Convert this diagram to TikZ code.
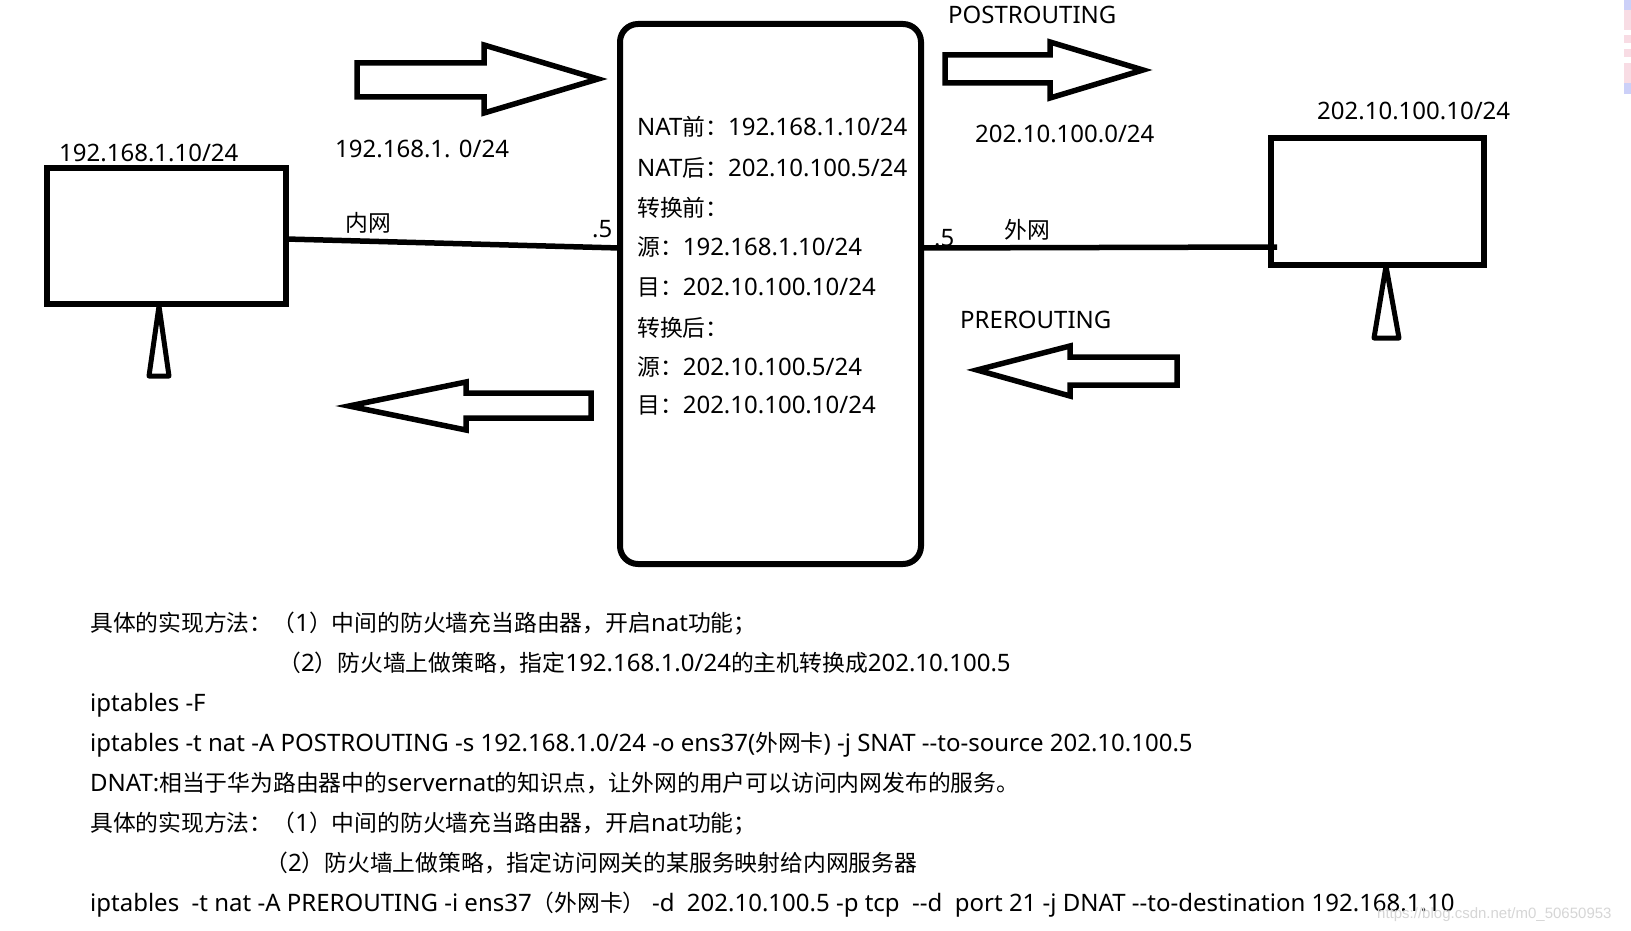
\documentclass[tikz,border=0pt]{standalone}
\usepackage{fontspec}
\setmainfont{Noto Sans}
\newfontfamily\cjkf{Noto Sans CJK SC}[Scale=0.95]
\newfontfamily\wmf{Liberation Sans}
\newcommand\C[1]{{\cjkf #1}}
\definecolor{pinkbar}{HTML}{F8DCE4}
\definecolor{bluebar}{HTML}{CCD0F8}
\definecolor{wmark}{HTML}{D6D6D6}
\begin{document}
\begin{tikzpicture}[x=1pt,y=-1pt,
  ln/.style={line width=5.5pt},
  ant/.style={line width=5pt, line join=round},
  box/.style={draw, line width=5.5pt, inner sep=0pt, outer sep=0pt},
  txt/.style={anchor=base west, inner sep=0pt, font=\fontsize{24}{29}\selectfont}]
\useasboundingbox (0,0) rectangle (1631,931);
\fill[white] (0,0) rectangle (1631,931);
% stripes at the right edge
\fill[bluebar] (1624,0) rectangle (1631,10);
\fill[pinkbar] (1624,10) rectangle (1631,30);
\fill[pinkbar] (1624,35) rectangle (1631,43);
\fill[pinkbar] (1624,49) rectangle (1631,57);
\fill[pinkbar] (1624,63) rectangle (1631,83);
\fill[bluebar] (1624,83) rectangle (1631,94);

% boxes
\node[box, minimum width=239, minimum height=136] (lbox) at (166.5,236) {};
\node[box, line width=6pt, rounded corners=18pt, minimum width=301, minimum height=540] (mid) at (770.5,294) {};
\node[box, minimum width=213, minimum height=127] (rbox) at (1377.5,201.5) {};

% antennas
\draw[ant] (159,306) -- (149,376) -- (169,376) -- cycle;
\draw[ant] (1386,266) -- (1374,338) -- (1399,338) -- cycle;

% links
\coordinate (la) at (286,239);
\coordinate (lp) at (620,248);
\coordinate (rp) at (921,248);
\coordinate (rb) at (1277,247);
\draw[ln] (la) -- (lp);
\draw[ln] (rp) -- (rb);

% block arrows
\draw[ln] (357,63) -- (484,63) -- (484,45) -- (598,79) -- (484,113) -- (484,97) -- (357,97) -- cycle;
\draw[ln] (945,55) -- (1050,55) -- (1050,42) -- (1143,70) -- (1050,98) -- (1050,83) -- (945,83) -- cycle;
\draw[ln] (591,393) -- (466,393) -- (466,382) -- (349,406) -- (466,430) -- (466,418) -- (591,418) -- cycle;
\draw[ln] (1177,357) -- (1070,357) -- (1070,346) -- (977,370) -- (1070,396) -- (1070,385) -- (1177,385) -- cycle;

% labels
\node[txt] (t1) at (59,162) {192.168.1.10/24};
\node[txt] (t2) at (335,158) {192.168.1. 0/24};
\node[txt] (t3) at (345,231) {\C{内网}};
\node[txt] (t4) at (592,237) {.5};
\node[txt] (t5) at (948,24) {POSTROUTING};
\node[txt] (t6) at (1317,120) {202.10.100.10/24};
\node[txt] (t7) at (975,143) {202.10.100.0/24};
\node[txt] (t8) at (1004,238) {\C{外网}};
\node[txt] (t9) at (934,246) {.5};
\node[txt] (t10) at (960,328) {PREROUTING};

% middle box text
\node[txt] (m1) at (637,135.5) {NAT\C{前：}192.168.1.10/24};
\node[txt] (m2) at (637,176) {NAT\C{后：}202.10.100.5/24};
\node[txt] (m3) at (637,216) {\C{转换前：}};
\node[txt] (m4) at (637,255.5) {\C{源：}192.168.1.10/24};
\node[txt] (m5) at (637,295.5) {\C{目：}202.10.100.10/24};
\node[txt] (m6) at (637,336) {\C{转换后：}};
\node[txt] (m7) at (637,375.5) {\C{源：}202.10.100.5/24};
\node[txt] (m8) at (637,413.5) {\C{目：}202.10.100.10/24};

% bottom text
\node[txt] (b1) at (90,631.5) {\C{具体的实现方法：（}1\C{）中间的防火墙充当路由器，开启}nat\C{功能；}};
\node[txt] (b2) at (278,671.5) {\C{（}2\C{）防火墙上做策略，指定}192.168.1.0/24\C{的主机转换成}202.10.100.5};
\node[txt] (b3) at (90,711.5) {iptables -F};
\node[txt] (b4) at (90,751.5) {iptables -t nat -A POSTROUTING -s 192.168.1.0/24 -o ens37(\C{外网卡}) -j SNAT -{}-to-source 202.10.100.5};
\node[txt] (b5) at (90,791) {DNAT:\C{相当于华为路由器中的}servernat\C{的知识点，让外网的用户可以访问内网发布的服务。}};
\node[txt] (b6) at (90,831.5) {\C{具体的实现方法：（}1\C{）中间的防火墙充当路由器，开启}nat\C{功能；}};
\node[txt] (b7) at (265,871) {\C{（}2\C{）防火墙上做策略，指定访问网关的某服务映射给内网服务器}};
\node[txt] (b8) at (90,911.5) {iptables\ \ -t nat -A PREROUTING -i ens37\C{（外网卡）}\ -d\ \ 202.10.100.5 -p tcp\ \ -{}-d\ \ port 21 -j DNAT -{}-to-destination 192.168.1.10};

% watermark
\node[anchor=base west, inner sep=0pt, text=wmark, font=\wmf\fontsize{15}{18}\selectfont] (wm) at (1377,918) {https://blog.csdn.net/m0\_50650953};
\end{tikzpicture}
\end{document}
